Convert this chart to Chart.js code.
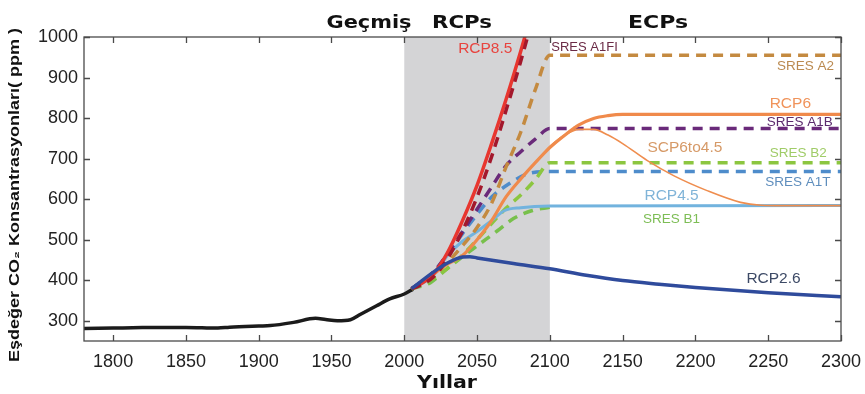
<!DOCTYPE html>
<html>
<head>
<meta charset="utf-8">
<script src="https://cdn.jsdelivr.net/npm/chart.js@4.4.1/dist/chart.umd.min.js"></script>
<style>
  html, body { margin: 0; padding: 0; background: #fff; }
  #wrap { width: 865px; height: 394px; }
</style>
</head>
<body>
<div id="wrap"><canvas id="co2-chart" width="865" height="394"></canvas></div>
<script>
// Axis ticks
const yearTicks = [1800, 1850, 1900, 1950, 2000, 2050, 2100, 2150, 2200, 2250, 2300];
const ppmTicks = [300, 400, 500, 600, 700, 800, 900, 1000];

// Historical record
const histYears = [1780, 1800, 1820, 1850, 1872, 1880, 1900, 1908, 1924, 1939, 1946, 1954, 1963, 1970, 1981, 1990, 2000, 2006];
const histPpm   = [281, 282, 283, 283.5, 282, 284, 287, 288, 296, 306, 303, 300, 302.5, 316, 337, 354, 366, 378];

// RCP pathways
const rcp85Years = [2005, 2010, 2020, 2030, 2040, 2050, 2060, 2070, 2080, 2090];
const rcp85Ppm   = [379, 388, 415, 470, 547, 634, 737, 847, 965, 1090];

const rcp6Years = [2005, 2016, 2028, 2040, 2050, 2060, 2070, 2080, 2090, 2100, 2110, 2120, 2130, 2140, 2150, 2300];
const rcp6Ppm   = [379, 404, 436, 461, 500, 547, 606, 650, 690, 727, 757, 783, 799, 806, 809, 809];

const scp6to45Years = [2090, 2100, 2110, 2120, 2130, 2140, 2150, 2167, 2185, 2208, 2231, 2245, 2260, 2300];
const scp6to45Ppm   = [690, 730, 758, 772, 772, 758, 737, 695, 658, 621, 592, 585, 584, 584];

const rcp45Years = [2005, 2020, 2030, 2040, 2050, 2060, 2069, 2080, 2100, 2300];
const rcp45Ppm   = [379, 412, 462, 496, 520, 547, 572, 579, 583, 584];

const rcp26Years = [2005, 2020, 2030, 2040, 2045, 2050, 2075, 2100, 2125, 2150, 2175, 2200, 2250, 2300];
const rcp26Ppm   = [379, 420, 443, 457, 458, 455, 441, 428, 412, 399, 390, 382, 369, 359];

// SRES scenarios
const a1fiYears = [2005, 2010, 2020, 2030, 2040, 2050, 2060, 2070, 2080, 2090];
const a1fiPpm   = [379, 386, 408, 455, 522, 605, 705, 820, 940, 1070];

const a2Years = [2005, 2020, 2030, 2040, 2050, 2060, 2070, 2080, 2090, 2100, 2300];
const a2Ppm   = [379, 410, 445, 485, 530, 590, 680, 765, 870, 955, 955];

const a1bYears = [2005, 2020, 2035, 2050, 2060, 2070, 2080, 2090, 2100, 2300];
const a1bPpm   = [379, 420, 493, 575, 630, 683, 717, 748, 774, 774];

const b2Years = [2005, 2020, 2030, 2040, 2050, 2060, 2070, 2080, 2090, 2100, 2300];
const b2Ppm   = [379, 405, 430, 462, 500, 540, 578, 610, 648, 690, 690];

const a1tYears = [2005, 2020, 2033, 2040, 2051, 2060, 2072, 2085, 2100, 2300];
const a1tPpm   = [379, 420, 480, 515, 567, 605, 638, 663, 668, 668];

const b1Years = [2005, 2018, 2028, 2040, 2052, 2064, 2075, 2088, 2100];
const b1Ppm   = [379, 394, 424, 458, 490, 522, 552, 572, 580];

function toPoints(years, values) {
    return years.map((yr, i) => ({ x: yr, y: values[i] }));
}

function solid(label, years, values, color, width) {
    return {
        label: label,
        data: toPoints(years, values),
        borderColor: color,
        borderWidth: width,
        pointRadius: 0,
        fill: false,
        cubicInterpolationMode: 'monotone'
    };
}

function dashed(label, years, values, color) {
    const ds = solid(label, years, values, color, 3.5);
    ds.borderDash = [10, 7];
    ds.borderCapStyle = 'butt';
    return ds;
}

// First dataset ends up on top
const datasets = [
    solid('RCP2.6', rcp26Years, rcp26Ppm, '#2f4b9c', 3.5),
    dashed('SRES A1FI', a1fiYears, a1fiPpm, '#a3182c'),
    solid('RCP8.5', rcp85Years, rcp85Ppm, '#e8362f', 3.5),
    solid('SCP6to4.5', scp6to45Years, scp6to45Ppm, '#ef8d4e', 1.6),
    solid('RCP6', rcp6Years, rcp6Ppm, '#f08a4b', 3.2),
    dashed('SRES A2', a2Years, a2Ppm, '#c48a40'),
    dashed('SRES A1B', a1bYears, a1bPpm, '#6a2a7a'),
    solid('RCP4.5', rcp45Years, rcp45Ppm, '#72b3de', 3),
    dashed('SRES B2', b2Years, b2Ppm, '#8cc640'),
    dashed('SRES A1T', a1tYears, a1tPpm, '#4e8ccb'),
    dashed('SRES B1', b1Years, b1Ppm, '#78c04c'),
    solid('Geçmiş', histYears, histPpm, '#1b1b1b', 3.5)
];

// Text next to each curve, anchored in data units
const seriesLabels = [
    { text: 'RCP8.5',    x: 2037, y: 970, color: '#e8443f', size: 15.5 },
    { text: 'SRES A1FI', x: 2101, y: 975, color: '#6b2b46', size: 13 },
    { text: 'SRES A2',   x: 2256, y: 928, color: '#bb8a50', size: 13.5 },
    { text: 'RCP6',      x: 2251, y: 836, color: '#f0935a', size: 15.5 },
    { text: 'SRES A1B',  x: 2249, y: 789, color: '#5c2c6e', size: 13.5 },
    { text: 'SCP6to4.5', x: 2167, y: 727, color: '#d69a68', size: 15.5 },
    { text: 'SRES B2',   x: 2251, y: 713, color: '#a0cc68', size: 13.5 },
    { text: 'SRES A1T',  x: 2248, y: 641, color: '#5f8ebd', size: 13.5 },
    { text: 'RCP4.5',    x: 2165, y: 609, color: '#80b4d8', size: 15.5 },
    { text: 'SRES B1',   x: 2164, y: 550, color: '#7dbd55', size: 13.5 },
    { text: 'RCP2.6',    x: 2235, y: 404, color: '#3d4a66', size: 15.5 }
];

// Stretch a bold string to a given width
function wideText(ctx, text, cx, baseline, font, width) {
    ctx.save();
    ctx.font = font;
    const w = ctx.measureText(text).width;
    ctx.translate(cx, baseline);
    ctx.scale(width / w, 1);
    ctx.textAlign = 'center';
    ctx.textBaseline = 'alphabetic';
    ctx.fillText(text, 0, 0);
    ctx.restore();
}

const framePlugin = {
    id: 'frame',
    beforeDatasetsDraw(chart) {
        const { ctx, chartArea, scales } = chart;
        const x0 = scales.x.getPixelForValue(2000);
        const x1 = scales.x.getPixelForValue(2100);
        ctx.save();
        ctx.fillStyle = '#d4d4d6';
        ctx.fillRect(x0, chartArea.top, x1 - x0, chartArea.bottom - chartArea.top);
        ctx.restore();
    },
    afterDatasetsDraw(chart) {
        const { ctx, chartArea, scales } = chart;
        const { left, right, top, bottom } = chartArea;
        ctx.save();

        // box and inward ticks
        ctx.strokeStyle = '#4a4a4a';
        ctx.lineWidth = 1.3;
        ctx.strokeRect(left, top, right - left, bottom - top);
        ctx.beginPath();
        yearTicks.forEach(v => {
            const px = Math.round(scales.x.getPixelForValue(v)) + 0.5;
            ctx.moveTo(px, bottom); ctx.lineTo(px, bottom - 6);
            ctx.moveTo(px, top); ctx.lineTo(px, top + 6);
        });
        ppmTicks.forEach(v => {
            const py = Math.round(scales.y.getPixelForValue(v)) + 0.5;
            ctx.moveTo(left, py); ctx.lineTo(left + 6, py);
            ctx.moveTo(right, py); ctx.lineTo(right - 6, py);
        });
        ctx.stroke();

        // curve names
        ctx.textAlign = 'left';
        ctx.textBaseline = 'middle';
        seriesLabels.forEach(l => {
            ctx.font = l.size + 'px "Liberation Sans", Arial, sans-serif';
            ctx.fillStyle = l.color;
            ctx.fillText(l.text, scales.x.getPixelForValue(l.x), scales.y.getPixelForValue(l.y));
        });

        // period headers and axis titles
        ctx.fillStyle = '#111';
        const bold = 'bold 18px "DejaVu Sans", sans-serif';
        wideText(ctx, 'Geçmiş', 369, 28, bold, 85);
        wideText(ctx, 'RCPs', 462, 28, bold, 60);
        wideText(ctx, 'ECPs', 658, 28, bold, 60);
        wideText(ctx, 'Yıllar', 447, 388, 'bold 17px "DejaVu Sans", sans-serif', 60);

        ctx.save();
        ctx.translate(19, 195);
        ctx.rotate(-Math.PI / 2);
        ctx.font = 'bold 14px "Liberation Sans", Arial, sans-serif';
        const t = 'Eşdeğer CO₂ Konsantrasyonları( ppm )';
        const w = ctx.measureText(t).width;
        ctx.scale(334 / w, 1);
        ctx.textAlign = 'center';
        ctx.textBaseline = 'alphabetic';
        ctx.fillText(t, 0, 0);
        ctx.restore();

        ctx.restore();
    }
};

const tickFont = { family: '"Liberation Sans", Arial, sans-serif', size: 18 };

new Chart(document.getElementById('co2-chart'), {
    type: 'line',
    data: { datasets: datasets },
    options: {
        responsive: false,
        animation: false,
        events: [],
        layout: { padding: { top: 37, right: 24, bottom: 0, left: 0 } },
        plugins: {
            legend: { display: false },
            tooltip: { enabled: false }
        },
        scales: {
            x: {
                type: 'linear',
                min: 1780,
                max: 2300,
                afterBuildTicks: scale => { scale.ticks = yearTicks.map(v => ({ value: v })); },
                afterFit: scale => {
                    scale.height = 53;
                    scale.paddingLeft = 0;
                    scale.paddingRight = 0;
                },
                grid: { display: false, drawTicks: false },
                border: { display: false },
                ticks: { font: tickFont, color: '#222', padding: 10, maxRotation: 0, autoSkip: false,
                         callback: v => String(v) }
            },
            y: {
                type: 'linear',
                min: 250,
                max: 1000,
                afterBuildTicks: scale => { scale.ticks = ppmTicks.map(v => ({ value: v })); },
                afterFit: scale => {
                    scale.width = 84;
                    scale.paddingTop = 0;
                    scale.paddingBottom = 0;
                },
                grid: { display: false, drawTicks: false },
                border: { display: false },
                ticks: { font: tickFont, color: '#222', padding: 6, callback: v => String(v) }
            }
        }
    },
    plugins: [framePlugin]
});
</script>
</body>
</html>
